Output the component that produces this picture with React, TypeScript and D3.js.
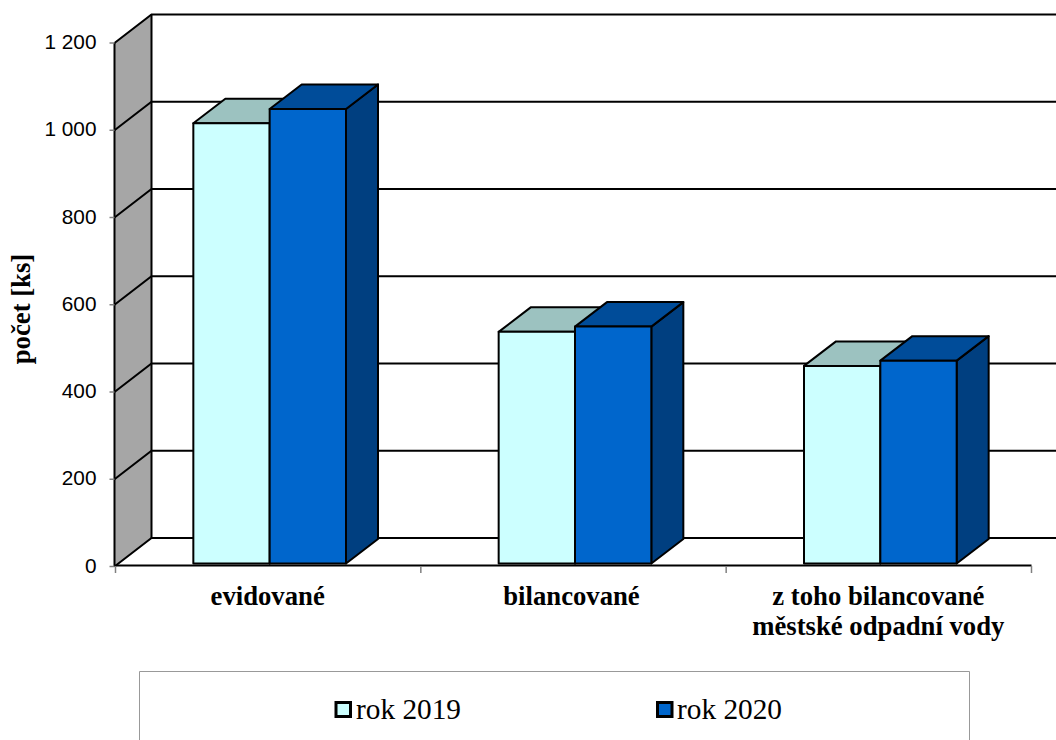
import React from "react";
import * as d3 from "d3";

const categories: string[][] = [["evidované"], ["bilancované"], ["z toho bilancované", "městské odpadní vody"]];
const values2019 = [1009, 531, 453];
const values2020 = [1042, 543, 465];
const seriesNames = ["rok 2019", "rok 2020"];
const yTicks = [0, 200, 400, 600, 800, 1000, 1200];
const yTickLabels = ["0", "200", "400", "600", "800", "1 000", "1 200"];

const W = 1056;
const H = 740;
const frontFloor = 566.5;
const frontTop = 43;
const wallLeft = 114.5;
const wallDx = 37;
const wallDy = 28.5;
const barDx = 32;
const barDy = 24.5;
const barLift = 3;

const palette = [
  { front: "#CCFFFF", top: "#9CC2C0", side: "#99BFBF" },
  { front: "#0066CC", top: "#004C99", side: "#003F80" },
];
const ink = "#000";
const serif = "'Liberation Serif', 'Times New Roman', serif";
const sans = "'Liberation Sans', Arial, sans-serif";

const y = d3.scaleLinear().domain([0, 1200]).range([frontFloor, frontTop]);
const catTicks = d3.scaleLinear().domain([0, 3]).range([115.5, 1031.5]);
const x0 = d3
  .scaleBand<number>()
  .domain(d3.range(categories.length))
  .range([117, 1033])
  .paddingInner(0.5)
  .paddingOuter(0.25);
const x1 = d3.scaleBand<number>().domain([0, 1]).range([0, x0.bandwidth()]);
const legendX = d3.scaleOrdinal<number, number>().domain([0, 1]).range([336.5, 657.5]);

const poly = (pts: [number, number][]) => pts.map((p) => p.join(",")).join(" ");

function Bar({ cat, series, value }: { cat: number; series: number; value: number }) {
  const left = x0(cat)! + x1(series)!;
  const right = left + x1.bandwidth();
  const top = y(value) - barLift;
  const bottom = y(0) - barLift;
  const c = palette[series];
  return (
    <g stroke={ink} strokeWidth={2} strokeLinejoin="round">
      <polygon
        fill={c.side}
        points={poly([
          [right, top],
          [right + barDx, top - barDy],
          [right + barDx, bottom - barDy],
          [right, bottom],
        ])}
      />
      <polygon
        fill={c.top}
        points={poly([
          [left, top],
          [left + barDx, top - barDy],
          [right + barDx, top - barDy],
          [right, top],
        ])}
      />
      <rect x={left} y={top} width={right - left} height={bottom - top} fill={c.front} />
    </g>
  );
}

export default function App() {
  const wallRight = wallLeft + wallDx;
  return (
    <svg
      width={W}
      height={H}
      viewBox={`0 0 ${W} ${H}`}
      style={{ position: "absolute", left: 0, top: 0, background: "#fff" }}
    >
      {/* side wall */}
      <polygon
        fill="#A6A6A6"
        points={poly([
          [wallLeft, y(1200)],
          [wallRight, y(1200) - wallDy],
          [wallRight, y(0) - wallDy],
          [wallLeft, y(0)],
        ])}
      />
      {/* gridlines across the back wall and along the side wall */}
      <g stroke={ink} strokeWidth={2} fill="none">
        {yTicks.map((t) => (
          <polyline
            key={t}
            points={poly([
              [wallLeft, y(t)],
              [wallRight, y(t) - wallDy],
              [W, y(t) - wallDy],
            ])}
          />
        ))}
        <line x1={wallLeft} x2={wallLeft} y1={y(0)} y2={y(1200)} />
        <line x1={wallRight} x2={wallRight} y1={y(0) - wallDy} y2={y(1200) - wallDy} />
      </g>

      {categories.map((_, i) => (
        <g key={i}>
          <Bar cat={i} series={0} value={values2019[i]} />
          <Bar cat={i} series={1} value={values2020[i]} />
        </g>
      ))}

      {/* value axis */}
      <g stroke="#808080" strokeWidth={1.5}>
        {yTicks.map((t) => (
          <line key={t} x1={wallLeft - 5} x2={wallLeft} y1={y(t)} y2={y(t)} />
        ))}
      </g>
      <g fontFamily={sans} fontSize={20.8} textAnchor="end" fill={ink}>
        {yTicks.map((t, i) => (
          <text key={t} x={96.5} y={y(t) + 6}>
            {yTickLabels[i]}
          </text>
        ))}
      </g>
      <text
        transform="translate(29.5,309) rotate(-90)"
        fontFamily={serif}
        fontWeight="bold"
        fontSize={26.7}
        textAnchor="middle"
        fill={ink}
      >
        počet [ks]
      </text>

      {/* category axis */}
      <line x1={catTicks(0)} x2={catTicks(3)} y1={565.5} y2={565.5} stroke={ink} strokeWidth={2} />
      <g stroke="#808080" strokeWidth={1.5}>
        {d3.range(4).map((i) => (
          <line key={i} x1={catTicks(i)} x2={catTicks(i)} y1={566} y2={573} />
        ))}
      </g>
      <g fontFamily={serif} fontWeight="bold" fontSize={26.7} textAnchor="middle" fill={ink}>
        {categories.map((lines, i) =>
          lines.map((line, j) => (
            <text key={j} x={x0(i)! + x0.bandwidth() / 2 - (i === 1 ? 3.5 : 2)} y={605 + j * 30}>
              {line}
            </text>
          ))
        )}
      </g>

      {/* legend */}
      <polyline
        points={poly([
          [139.5, H],
          [139.5, 671.5],
          [969.5, 671.5],
          [969.5, H],
        ])}
        fill="none"
        stroke="#999"
        strokeWidth={1}
      />
      {seriesNames.map((name, i) => {
        const lx = legendX(i);
        return (
          <g key={name}>
            <rect x={lx - (i === 0 ? 0.5 : 0)} y={702.5} width={14.5} height={14} fill={palette[i].front} stroke={ink} strokeWidth={3} />
            <text x={lx + 19.5} y={719} fontFamily={serif} fontSize={29.3} fill={ink}>
              {name}
            </text>
          </g>
        );
      })}
    </svg>
  );
}
